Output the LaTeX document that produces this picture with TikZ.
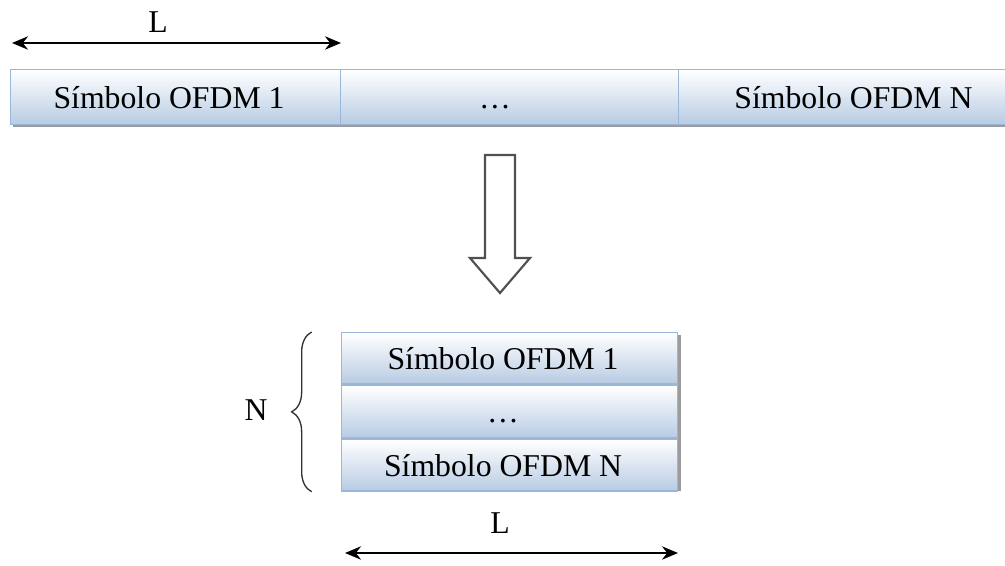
\documentclass[tikz,border=0pt]{standalone}
\usepackage{fontspec}
\setmainfont{Liberation Serif}
\usetikzlibrary{decorations.pathreplacing,arrows.meta}
\definecolor{celledge}{HTML}{9AB6D9}
\definecolor{cellbottom}{HTML}{B7CBE3}
\definecolor{shadowgray}{HTML}{9C9C9C}
\definecolor{arrowgray}{HTML}{505050}
\begin{document}
\begin{tikzpicture}[x=0.75pt,y=-0.75pt,
  font=\fontsize{23.8}{28}\selectfont,
  cell/.style={draw=celledge, line width=1.1pt, top color=white,
    bottom color=cellbottom, inner sep=0pt, text height=19pt, text depth=2.6pt,
    anchor=north west},
  shadowbox/.style={fill=shadowgray, draw=none},
  span/.style={{Stealth[length=12pt,width=10pt]}-{Stealth[length=12pt,width=10pt]}, line width=1.5pt},
  label/.style={inner sep=0pt}
]
\useasboundingbox (0,0) rectangle (1005,566);

% top row: one long frame of N symbols
\fill[shadowbox] (13,73) rectangle (1020,127.5);
\node[cell, minimum width=247.5pt, minimum height=41.25pt] (c1) at (10,69) {\hspace*{-10pt}Símbolo OFDM 1};
\node[cell, minimum width=253.5pt, minimum height=41.25pt] (c2) at (340,69) {\hspace*{-22pt}\ldots};
\node[cell, minimum width=258pt, minimum height=41.25pt] (c3) at (678,69) {\hspace*{4pt}Símbolo OFDM N};

% length of one symbol
\coordinate (tl) at (12,43);
\coordinate (tr) at (341,43);
\draw[span] (tl) -- (tr);
\node[label] (lt) at (158,22) {L};

% block arrow
\coordinate (a1) at (485,155);
\coordinate (a2) at (515,155);
\draw[draw=arrowgray, line width=1.6pt, fill=white, line join=miter]
  (a1) -- (a2) -- (515,258) -- (530,258) -- (500,293) -- (470,258) -- (485,258) -- cycle;

% bottom: symbols stacked as rows
\fill[shadowbox] (344,335) rectangle (680.5,490.5);
\node[cell, minimum width=252pt, minimum height=38.5pt] (r1) at (341,332) {\hspace*{-10pt}Símbolo OFDM 1};
\node[cell, minimum width=252pt, minimum height=39.5pt, anchor=north] (r2) at (r1.south) {\hspace*{-10pt}\ldots};
\node[cell, minimum width=252pt, minimum height=38.5pt, anchor=north] (r3) at (r2.south) {\hspace*{-10pt}Símbolo OFDM N};

% brace over the N rows
\draw[line width=1pt, black!80, decorate,
  decoration={brace, amplitude=15pt, aspect=0.5}]
  ([xshift=-22pt]r3.south west) -- ([xshift=-22pt]r1.north west);
\node[label] (n) at (256,410) {N};

% length of one row
\coordinate (bl) at (345,553);
\coordinate (br) at (678,553);
\draw[span] (bl) -- (br);
\node[label] (lb) at (500,523) {L};
\end{tikzpicture}
\end{document}
